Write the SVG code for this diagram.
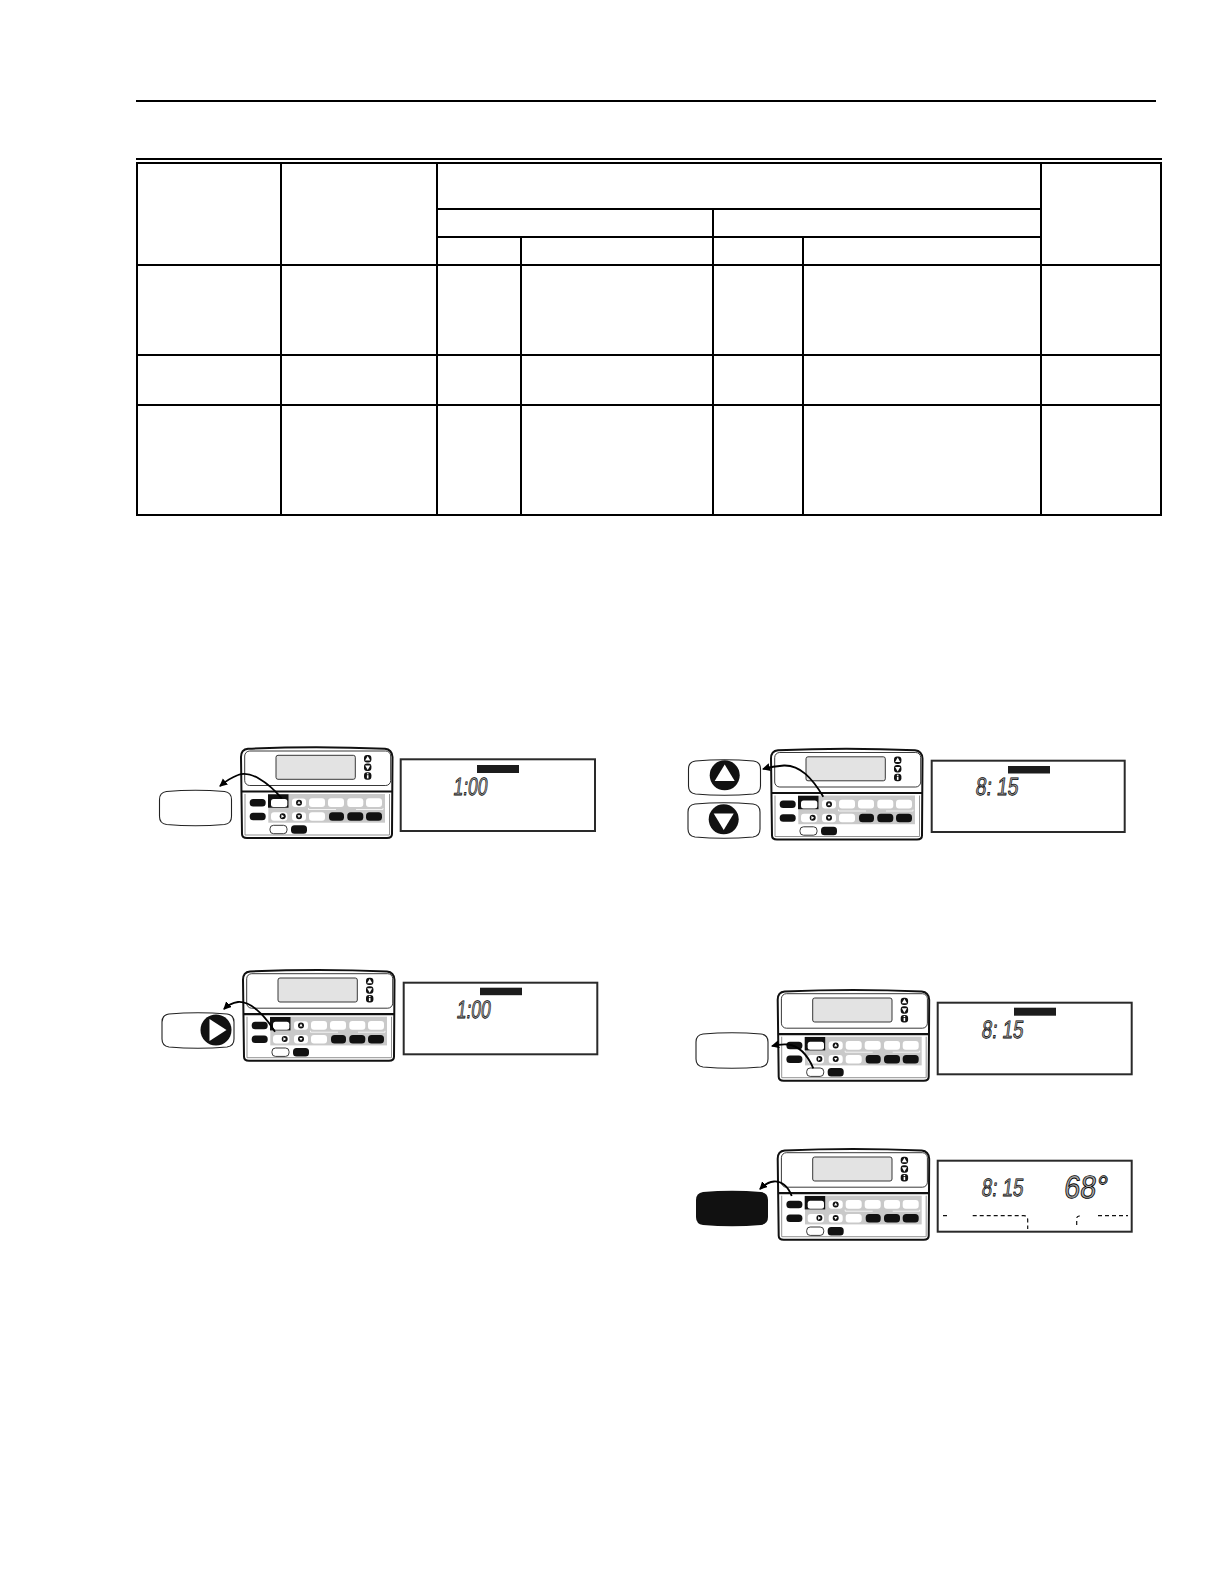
<svg xmlns="http://www.w3.org/2000/svg" width="1224" height="1584" viewBox="0 0 1224 1584">
<style>
.rule{stroke:#000;stroke-width:2;fill:none}
.body{fill:#fff;stroke:#111;stroke-width:2}
.thin{fill:#fff;stroke:#222;stroke-width:.9}
.screen{fill:#e3e3e3;stroke:#222;stroke-width:.9}
.gray{fill:#c9c9c9}
.k{fill:#111}
.w{fill:#fff}
.box{fill:#fff;stroke:#2a2a2a;stroke-width:2}
.bar{fill:#1c1c1c}
.call{fill:#fff;stroke:#222;stroke-width:1.1}
.lcd{font-family:"Liberation Sans",sans-serif;font-size:25px;fill:#aaa;stroke:#000;stroke-width:.8;opacity:.99;text-rendering:geometricPrecision}
.lcdb{font-family:"Liberation Sans",sans-serif;font-size:32px;fill:#aaa;stroke:#000;stroke-width:.9;opacity:.99;text-rendering:geometricPrecision}
.arr{fill:none;stroke:#000;stroke-width:1.8;marker-end:url(#head)}
.dash{fill:none;stroke:#111;stroke-width:1.2;stroke-dasharray:4 3}
</style>
<defs>
<marker id="head" markerUnits="userSpaceOnUse" markerWidth="10" markerHeight="10" refX="7" refY="4" orient="auto"><path d="M0 0L8 4L0 8Z" fill="#000"/></marker>
<path id="callout" d="M7 1Q36 -1.5 65 1Q72 2 72 9L72 26Q72 33 65 34Q36 36.5 7 34Q0 33 0 26L0 9Q0 2 7 1Z"/>
<g id="stat">
<path class="body" d="M242 834L241 757Q241 749.5 248 748.8Q316 745.8 385 748.8Q392 749.5 392.5 757L392 834Q392 838 387 838L247 838Q242 838 242 834Z"/>
<rect class="thin" x="244.7" y="751" width="146" height="34.5" rx="5"/>
<path d="M242 791.5H392" stroke="#111" stroke-width="2.2"/>
<path d="M245 794V835H389.5V794" fill="none" stroke="#777" stroke-width=".8"/>
<rect class="screen" x="276" y="755.3" width="79.3" height="24" rx="2"/>
<rect class="k" x="364" y="755" width="7.4" height="7.4" rx="3"/><path class="w" d="M367.7 756l2.6 4.5h-5.2z"/>
<rect class="k" x="364" y="763.6" width="7.4" height="7.4" rx="3"/><path class="w" d="M367.7 770l2.6 -4.5h-5.2z"/>
<rect class="k" x="364" y="772.3" width="7.4" height="7.4" rx="3"/><rect class="w" x="366.9" y="775.2" width="1.6" height="3.2"/><rect class="w" x="366.9" y="773.2" width="1.6" height="1.2"/>
<rect class="gray" x="268.3" y="794" width="116.7" height="28.7"/>
<rect class="k" x="249.7" y="799" width="16" height="7.5" rx="3.5"/>
<rect class="k" x="249.7" y="812.7" width="16" height="7.5" rx="3.5"/>
<rect class="k" x="268" y="794.3" width="20.5" height="13.4"/>
<rect class="w" x="271" y="799" width="16.3" height="8" rx="2.5"/>
<rect class="w" x="292" y="798.5" width="14" height="8.5" rx="3"/>
<circle class="k" cx="299" cy="802.7" r="3"/><path class="w" d="M299 800.9l1.6 2.8h-3.2z"/>
<g class="w"><rect x="309" y="798.3" width="16" height="8.7" rx="3"/><rect x="328" y="798.3" width="16" height="8.7" rx="3"/><rect x="347.3" y="798.3" width="16" height="8.7" rx="3"/><rect x="366" y="798.3" width="16" height="8.7" rx="3"/>
<rect x="271" y="812.3" width="16.3" height="8.4" rx="3"/><rect x="292" y="812.3" width="14" height="8.4" rx="3"/><rect x="309" y="812.3" width="16" height="8.4" rx="3"/></g>
<path d="M308.5 808V809.5H336M356 809.5H383V808" fill="none" stroke="#fff" stroke-width=".8"/>
<circle class="k" cx="282.7" cy="816.3" r="3"/><path class="w" d="M281.4 814.6l2.8 1.7l-2.8 1.7z"/>
<circle class="k" cx="299" cy="816.3" r="3"/><path class="w" d="M299 818.1l1.6 -2.8h-3.2z"/>
<g class="k"><rect x="329" y="812.3" width="15" height="8.4" rx="3.5"/><rect x="347.3" y="812.3" width="16" height="8.4" rx="3.5"/><rect x="366" y="812.3" width="16" height="8.4" rx="3.5"/></g>
<rect class="thin" x="270" y="825.3" width="17" height="8.4" rx="3.5"/>
<rect class="k" x="291" y="825.3" width="16" height="8.4" rx="3.5"/>
</g>
</defs>
<rect width="1224" height="1584" fill="#fff"/>

<g id="table" class="rule">
<path d="M136 101H1156M136 159H1162"/>
<rect x="137" y="163" width="1024" height="352"/>
<path d="M137 265H1161M137 355H1161M137 405H1161"/>
<path d="M437 209H1041M437 237H1041"/>
<path d="M281 163V515M437 163V515M1041 163V515M713 209V515M521 237V515M803 237V515"/>
</g>

<g id="step1">
<use href="#callout" class="call" x="159.5" y="790.5"/>
<use href="#stat"/>
<rect class="box" x="400.7" y="759.3" width="194.3" height="71.7"/>
<rect class="bar" x="477" y="765" width="42" height="8"/>
<text class="lcd" transform="translate(452.7 795) skewX(-7)" textLength="34" lengthAdjust="spacingAndGlyphs">1:00</text>
</g>

<g id="step2">
<use href="#callout" class="call" x="688.5" y="760"/>
<circle class="k" cx="724.7" cy="775.3" r="15"/><path class="w" d="M724.7 764.5l10 16.5h-20z"/>
<use href="#callout" class="call" x="688" y="803"/>
<circle class="k" cx="723.7" cy="819.3" r="15"/><path class="w" d="M723.7 830l10 -16.5h-20z"/>
<use href="#stat" x="530" y="1.5"/>
<rect class="box" x="931.7" y="760.7" width="193" height="71.3"/>
<rect class="bar" x="1008" y="766" width="42" height="7.5"/>
<text class="lcd" transform="translate(975 795) skewX(-7)" textLength="42.7" lengthAdjust="spacingAndGlyphs">8: 15</text>
</g>

<g id="step3">
<use href="#callout" class="call" x="162" y="1013"/>
<circle class="k" cx="216" cy="1030" r="15.5"/><path class="w" d="M209.5 1019l17 11l-17 11z"/>
<use href="#stat" x="2" y="222.7"/>
<rect class="box" x="403.7" y="982.7" width="193.6" height="71.6"/>
<rect class="bar" x="480" y="987.7" width="42" height="7.5"/>
<text class="lcd" transform="translate(456 1018.3) skewX(-7)" textLength="34" lengthAdjust="spacingAndGlyphs">1:00</text>
</g>

<g id="step4">
<use href="#callout" class="call" x="696" y="1033"/>
<use href="#stat" x="536.7" y="242.7"/>
<rect class="box" x="937.7" y="1002.7" width="194" height="71.6"/>
<rect class="bar" x="1014" y="1007.7" width="42" height="8"/>
<text class="lcd" transform="translate(981 1038.3) skewX(-7)" textLength="41.7" lengthAdjust="spacingAndGlyphs">8: 15</text>
</g>

<g id="step5">
<use href="#callout" class="k" x="696" y="1191"/>
<use href="#stat" x="536.7" y="401.7"/>
<rect class="box" x="937.7" y="1160.7" width="194" height="71"/>
<text class="lcd" transform="translate(981 1195.7) skewX(-7)" textLength="41.7" lengthAdjust="spacingAndGlyphs">8: 15</text>
<text class="lcdb" transform="translate(1063.3 1198.3) skewX(-7)" textLength="43.4" lengthAdjust="spacingAndGlyphs">68°</text>
<path class="dash" d="M943 1215.7H948M972.7 1215.7H1024Q1027.7 1216 1027.7 1220V1229M1076.7 1225V1218Q1077 1216 1081 1215.7M1098 1215.7H1128"/>
</g>

<g id="connectors">
<path class="arr" d="M281.7 798.3C268 782 250 770 238 775C230 778 226 781 220 786"/>
<path class="arr" d="M823.3 796.7C812 778 800 765 784 765.5C776 766 770 767 763 769"/>
<path class="arr" d="M275 1031.7C264 1014 250 1001 238 1002C231 1003 227 1006 224 1009"/>
<path class="arr" d="M813.3 1068.3C808 1056 800 1046 788 1044.5C782 1044 776 1045 772 1046"/>
<path class="arr" d="M791.7 1196C788 1186 781 1181 774 1181.5C768 1182 763 1186 760 1189"/>
</g>
</svg>
